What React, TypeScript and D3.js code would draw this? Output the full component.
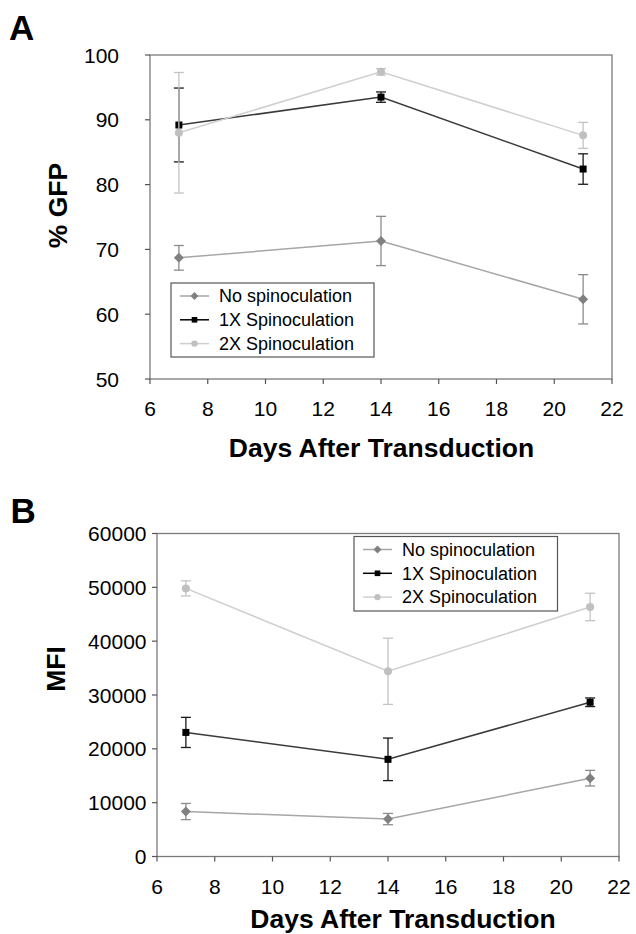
import React, { useEffect, useRef } from "react";
import * as d3 from "d3";

// Days after transduction (shared x values)
const days = [7, 14, 21];
const seriesNames = ["No spinoculation", "1X Spinoculation", "2X Spinoculation"];

// Panel A: % GFP
const gfpNoSpin = [68.7, 71.3, 62.3];
const gfpNoSpinErr = [1.9, 3.8, 3.8];
const gfp1x = [89.2, 93.5, 82.4];
const gfp1xErr = [5.7, 0.8, 2.35];
const gfp2x = [88.0, 97.4, 87.6];
const gfp2xErr = [9.3, 0.5, 2.0];

// Panel B: MFI
const mfiNoSpin = [8350, 6950, 14550];
const mfiNoSpinErr = [1500, 1050, 1450];
const mfi1x = [23050, 18050, 28650];
const mfi1xErr = [2800, 3950, 800];
const mfi2x = [49800, 34400, 46350];
const mfi2xErr = [1400, 6150, 2550];

const xTicks = [6, 8, 10, 12, 14, 16, 18, 20, 22];
const gfpTicks = [50, 60, 70, 80, 90, 100];
const mfiTicks = [0, 10000, 20000, 30000, 40000, 50000, 60000];

const FONT = "'Liberation Sans', Arial, Helvetica, sans-serif";

// marker / line styles per series
const styles = [
  { shape: "diamond", fill: "#808080", line: "#a6a6a6", err: "#8c8c8c" },
  { shape: "square", fill: "#000000", line: "#3a3a3a", err: "#1a1a1a" },
  { shape: "circle", fill: "#c0c0c0", line: "#cfcfcf", err: "#c4c4c4" },
];

function marker(g, shape, cx, cy, fill, scale = 1) {
  if (shape === "diamond") {
    const r = 5 * scale;
    g.append("path")
      .attr("d", `M${cx},${cy - r}L${cx + r},${cy}L${cx},${cy + r}L${cx - r},${cy}Z`)
      .attr("fill", fill);
  } else if (shape === "square") {
    const s = 7 * scale;
    g.append("rect")
      .attr("x", cx - s / 2).attr("y", cy - s / 2)
      .attr("width", s).attr("height", s)
      .attr("fill", fill);
  } else {
    g.append("circle").attr("cx", cx).attr("cy", cy).attr("r", 4 * scale).attr("fill", fill);
  }
}

function drawPanel(svg, cfg) {
  const { left, right, top, bottom, yDomain, yTicks, series, legend, yLabelX, xLabelBase, xTitle, yTitle, letter } = cfg;
  const x = d3.scaleLinear().domain([6, 22]).range([left, right]);
  const y = d3.scaleLinear().domain(yDomain).range([bottom, top]);
  const g = svg.append("g");

  // plot frame
  g.append("rect")
    .attr("x", left).attr("y", top)
    .attr("width", right - left).attr("height", bottom - top)
    .attr("fill", "none").attr("stroke", "#7a7a7a").attr("stroke-width", 1.3);

  // y ticks
  yTicks.forEach(t => {
    g.append("line").attr("x1", left - 5).attr("x2", left).attr("y1", y(t)).attr("y2", y(t))
      .attr("stroke", "#555").attr("stroke-width", 1.2);
    g.append("text").attr("x", yLabelX).attr("y", y(t) + 7.5)
      .attr("text-anchor", "end").style("font-family", FONT).style("font-size", "21px")
      .attr("fill", "#000").text(t);
  });

  // x ticks
  xTicks.forEach(t => {
    g.append("line").attr("x1", x(t)).attr("x2", x(t)).attr("y1", bottom).attr("y2", bottom + 5)
      .attr("stroke", "#555").attr("stroke-width", 1.2);
    g.append("text").attr("x", x(t)).attr("y", xLabelBase)
      .attr("text-anchor", "middle").style("font-family", FONT).style("font-size", "21px")
      .attr("fill", "#000").text(t);
  });

  // series
  series.forEach((s, i) => {
    const st = styles[i];
    const pts = days.map((d, j) => ({ d, v: s.values[j], e: s.errs[j] }));
    const line = d3.line().x(p => x(p.d)).y(p => y(p.v));
    g.append("path").datum(pts).attr("d", line)
      .attr("fill", "none").attr("stroke", st.line).attr("stroke-width", 1.5);
    pts.forEach(p => {
      const cx = x(p.d);
      g.append("line").attr("x1", cx).attr("x2", cx).attr("y1", y(p.v + p.e)).attr("y2", y(p.v - p.e))
        .attr("stroke", st.err).attr("stroke-width", 1.3);
      [p.v + p.e, p.v - p.e].forEach(v => {
        g.append("line").attr("x1", cx - 5).attr("x2", cx + 5).attr("y1", y(v)).attr("y2", y(v))
          .attr("stroke", st.err).attr("stroke-width", 1.3);
      });
    });
    pts.forEach(p => marker(g, st.shape, x(p.d), y(p.v), st.fill));
  });

  // legend
  const lg = g.append("g");
  lg.append("rect")
    .attr("x", legend.x).attr("y", legend.y).attr("width", legend.w).attr("height", legend.h)
    .attr("fill", "#fff").attr("stroke", "#555").attr("stroke-width", 1.2);
  seriesNames.forEach((name, i) => {
    const st = styles[i];
    const cy = legend.y + 13 + i * 23.8;
    lg.append("line").attr("x1", legend.x + 9).attr("x2", legend.x + 38).attr("y1", cy).attr("y2", cy)
      .attr("stroke", i === 1 ? "#000" : st.line).attr("stroke-width", 1.5);
    marker(lg, st.shape, legend.x + 23.5, cy, st.fill, 0.8);
    lg.append("text").attr("x", legend.x + 48).attr("y", cy + 6.3)
      .style("font-family", FONT).style("font-size", "18px").attr("fill", "#000").text(name);
  });

  // axis titles
  g.append("text").attr("x", xTitle.x).attr("y", xTitle.y)
    .attr("text-anchor", "middle").style("font-family", FONT).style("font-size", "26.5px")
    .style("font-weight", "bold").text("Days After Transduction");
  g.append("text")
    .attr("transform", `translate(${yTitle.x},${yTitle.y}) rotate(-90)`)
    .attr("text-anchor", "middle").style("font-family", FONT).style("font-size", "26.5px")
    .style("font-weight", "bold").text(yTitle.text);

  g.append("text").attr("x", letter.x).attr("y", letter.y)
    .style("font-family", FONT).style("font-size", "35px").style("font-weight", "bold")
    .text(letter.text);
}

export default function App() {
  const ref = useRef(null);

  useEffect(() => {
    const svg = d3.select(ref.current).html("");
    svg.append("rect").attr("width", 636).attr("height", 934).attr("fill", "#fff");

    drawPanel(svg, {
      left: 150, right: 612, top: 55, bottom: 379,
      yDomain: [50, 100], yTicks: gfpTicks,
      series: [
        { values: gfpNoSpin, errs: gfpNoSpinErr },
        { values: gfp1x, errs: gfp1xErr },
        { values: gfp2x, errs: gfp2xErr },
      ],
      legend: { x: 171, y: 283, w: 203, h: 74 },
      yLabelX: 119, xLabelBase: 415.5,
      xTitle: { x: 381.5, y: 456.5 },
      yTitle: { x: 67, y: 205.5, text: "% GFP" },
      letter: { x: 9, y: 39.5, text: "A" },
    });

    drawPanel(svg, {
      left: 157, right: 619, top: 533.5, bottom: 856.5,
      yDomain: [0, 60000], yTicks: mfiTicks,
      series: [
        { values: mfiNoSpin, errs: mfiNoSpinErr },
        { values: mfi1x, errs: mfi1xErr },
        { values: mfi2x, errs: mfi2xErr },
      ],
      legend: { x: 354, y: 536.5, w: 203.5, h: 74.5 },
      yLabelX: 146.5, xLabelBase: 893.5,
      xTitle: { x: 403, y: 928 },
      yTitle: { x: 65, y: 669, text: "MFI" },
      letter: { x: 10.5, y: 522.5, text: "B" },
    });
  }, []);

  return (
    <div style={{ position: "absolute", left: 0, top: 0 }}>
      <svg ref={ref} width={636} height={934} style={{ display: "block" }} />
    </div>
  );
}
